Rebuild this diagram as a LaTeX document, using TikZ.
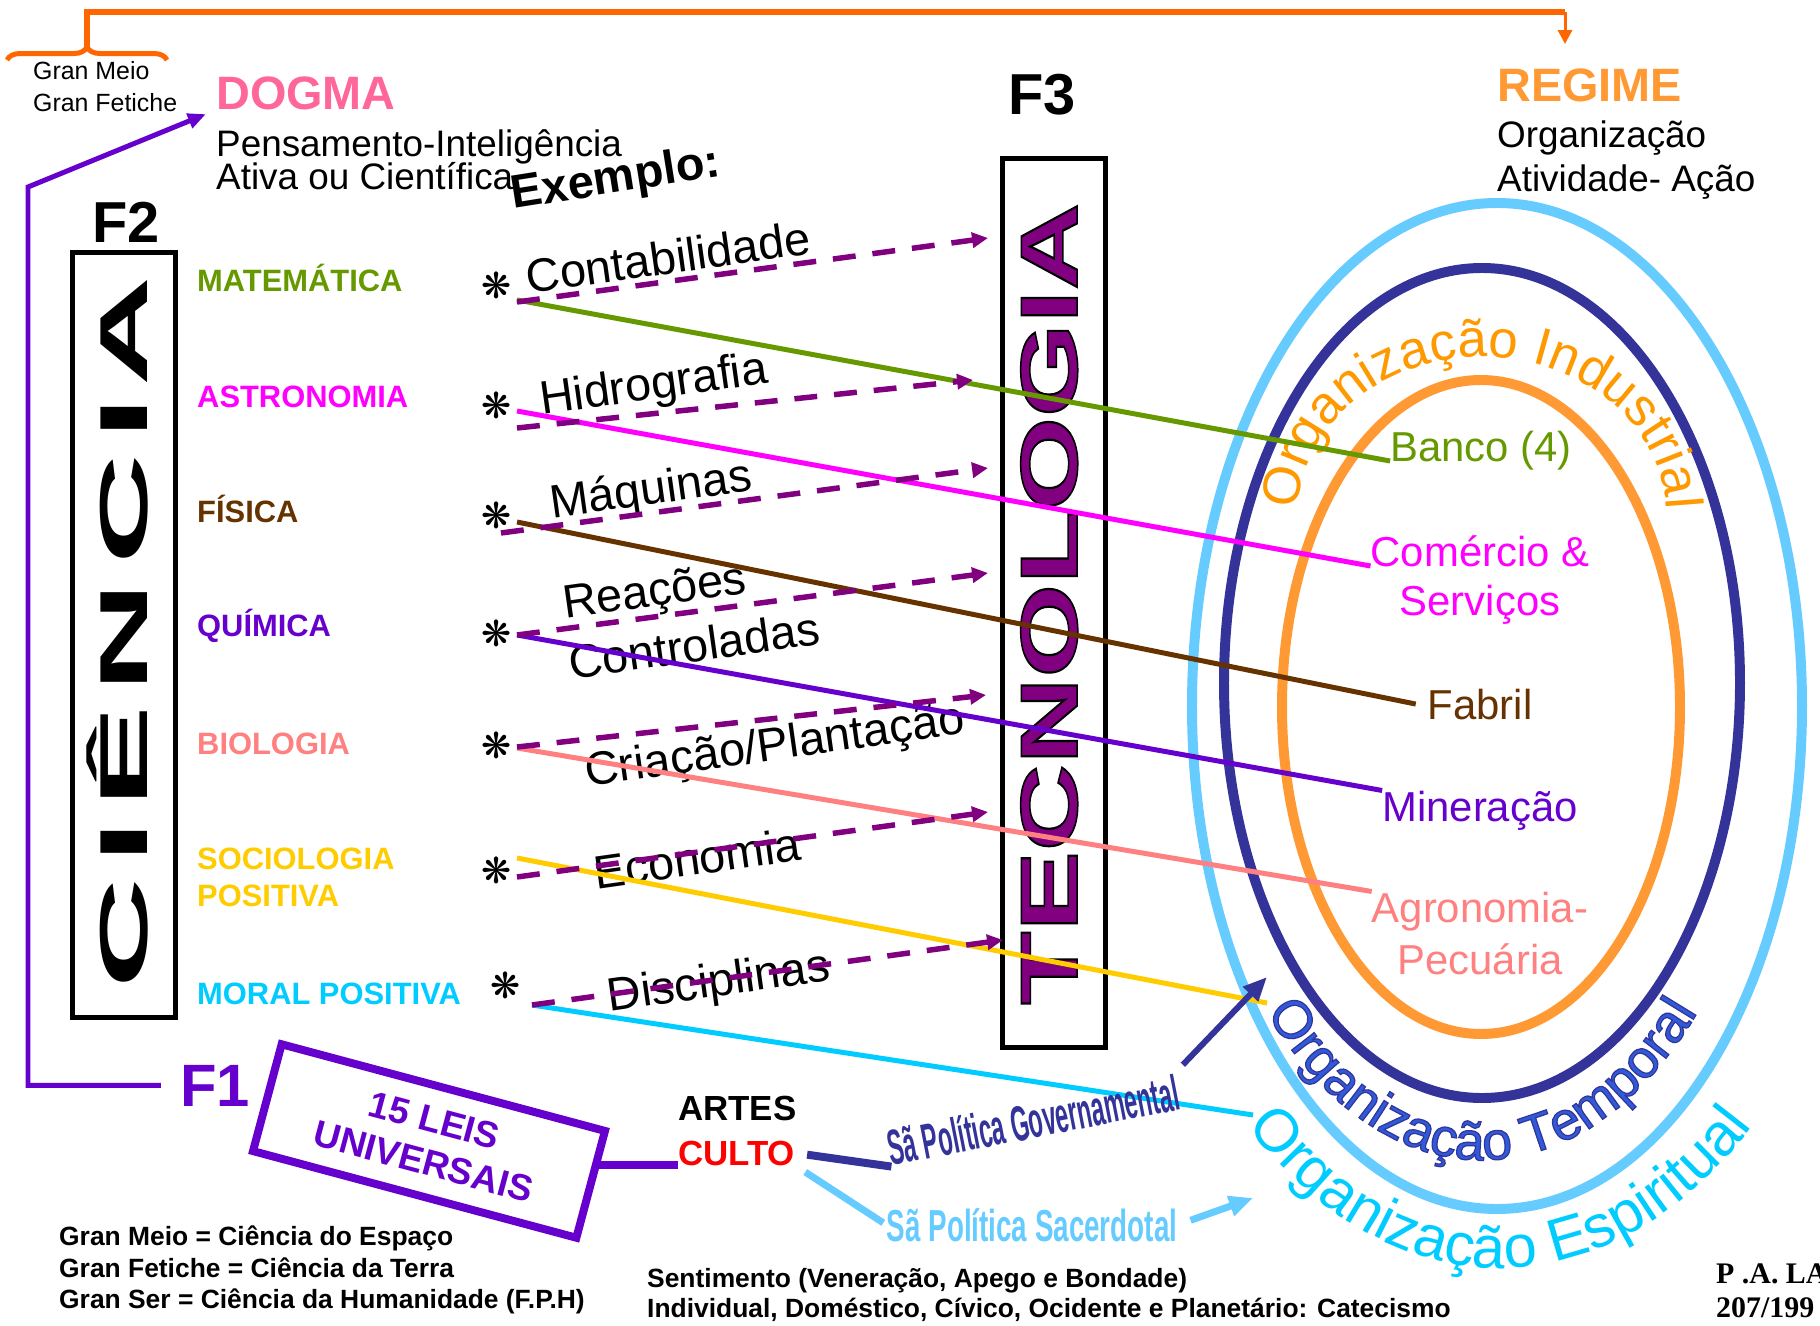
\documentclass[tikz,border=0pt]{standalone}
\usepackage{fontspec}
\setmainfont{Liberation Sans}
\newfontfamily\symfont{DejaVu Sans}
\newfontfamily\serifbf{Liberation Serif}
\usepackage{graphicx}
\usepackage{tikz}
\usetikzlibrary{arrows.meta,calc,positioning,decorations.text,decorations.pathreplacing}
\newcommand{\fsz}[1]{\fontsize{#1}{#1}\selectfont}
\newcommand{\outlined}[2]{\special{pdf:literal direct 2 Tr #1 w #2 RG}}
\newcommand{\plain}{\special{pdf:literal direct 0 Tr}}

\definecolor{matgreen}{HTML}{669900}
\definecolor{astmag}{HTML}{FF00FF}
\definecolor{fisbrown}{HTML}{663300}
\definecolor{quipurple}{HTML}{6600CC}
\definecolor{biosalmon}{HTML}{FF8080}
\definecolor{socgold}{HTML}{FFCC00}
\definecolor{morcyan}{HTML}{00CCFF}
\definecolor{tecpurple}{HTML}{800080}
\definecolor{dogmapink}{HTML}{FF6699}
\definecolor{regorange}{HTML}{FF9933}
\definecolor{indorange}{HTML}{FF9900}
\definecolor{brorange}{HTML}{FF6600}
\definecolor{dblue}{HTML}{333399}
\definecolor{lblue}{HTML}{66CCFF}
\definecolor{tempblue}{HTML}{2F5BD8}

\begin{document}
\begin{tikzpicture}[x=1bp,y=-1bp]
    \tikzstyle{txt}=[inner sep=0pt]
    \tikzstyle{item}=[inner sep=0pt,anchor=base west,font=\fsz{31}\bfseries]
    \tikzstyle{ast}=[inner sep=0pt,font=\symfont\fsz{36}]
    \tikzstyle{tech}=[inner sep=0pt,rotate=8,font=\fsz{47}]
    \tikzstyle{res}=[inner sep=0pt,anchor=base,font=\fsz{42}]
    \tikzstyle{sbox}=[draw,line width=5pt,inner sep=0pt]
    \tikzstyle{link}=[line width=5pt]
    \tikzstyle{dasharrow}=[tecpurple,line width=5.5pt,dash pattern=on 23pt off 17pt,-{Triangle[length=16pt,width=15pt]}]
    \tikzstyle{orgtext}=[decorate,decoration={text along path,text align=center}]

    \fill[white] (0,0) rectangle (1820,1326);
    \useasboundingbox (0,0) rectangle (1820,1326);

    \draw[lblue,line width=10pt] (1497,706) ellipse [x radius=305,y radius=503];
    \draw[dblue,line width=10pt] (1482,683) ellipse [x radius=258,y radius=415];
    \draw[regorange,line width=10pt] (1481,707) ellipse [x radius=199,y radius=327];
    \path[orgtext,decoration={text color=indorange,text={|\fsz{53}|Organização Industrial}}]
      (1298,515) arc[start angle=180,end angle=360,x radius=184,y radius=158];
    \path[orgtext,decoration={text color=tempblue,text={|\fsz{54}\outlined{1.2}{0.2 0.2 0.6}|Organização Temporal}}]
      (1184,683) arc[start angle=180,end angle=0,x radius=298,y radius=477];
    \path[orgtext,decoration={text color=morcyan,text={|\fsz{60}|Organização Espiritual}}]
      (1120,706) arc[start angle=180,end angle=0,x radius=380,y radius=562];

    \draw[brorange,line width=5pt,decorate,decoration={brace,amplitude=13pt}] (7,60) -- (167,60);
    \coordinate (bt) at (87,47);
    \coordinate (rtop) at (1565,12);
    \coordinate (rtip) at (1565,44);
    \draw[brorange,line width=6pt] (bt) |- (rtop);
    \draw[brorange,line width=3pt,-{Triangle[length=14pt,width=14pt]}] (rtop) -- (rtip);

    \node[txt,anchor=base west,font=\fsz{25}] (meio) at (33,80) {Gran Meio};
    \node[txt,anchor=base west,font=\fsz{25}] (fetiche) at (33,112) {Gran Fetiche};
    \node[txt,anchor=base west,font=\fsz{47}\bfseries,text=dogmapink] (dogma) at (216,110) {DOGMA};
    \node[txt,anchor=base west,font=\fsz{37}] (pens) at (216,157) {Pensamento-Inteligência};
    \node[txt,anchor=base west,font=\fsz{37}] (ativa) at (216,190) {Ativa ou Científica};
    \node[txt,anchor=base west,font=\fsz{47}\bfseries,rotate=9] (exemplo) at ($(ativa.base east)+(0,19)$) {Exemplo:};

    \node[txt,anchor=base west,font=\fsz{47}\bfseries,text=regorange] (regime) at (1497,102) {REGIME};
    \node[txt,anchor=base west,font=\fsz{37}] (org) at (1497,148) {Organização};
    \node[txt,anchor=base west,font=\fsz{37}] (ativ) at (1497,192) {Atividade- Ação};

    \node[txt,anchor=base,font=\fsz{58}\bfseries] (f2) at (126,243) {F2};
    \node[txt,anchor=base,font=\fsz{58}\bfseries] (f3) at (1042,115) {F3};
    \node[txt,anchor=base,font=\fsz{60}\bfseries,text=quipurple] (f1) at (215,1106) {F1};

    \node[sbox,minimum width=103,minimum height=767] (cbox) at (124,635) {};
    \node[sbox,minimum width=103,minimum height=893] (tbox) at (1054,603) {};
    \foreach \l/\y [count=\i] in {A/331,I/418,C/509,N/637,Ê/757,I/842,C/933}
      \node[txt,anchor=base,rotate=90,font=\fsz{68}\bfseries] (cl\i) at (147,\y) {\scalebox{2.25}[1]{\l}};
    \node[txt,anchor=base,rotate=90,font=\fsz{81}\bfseries,text=tecpurple] (tec) at (1077,604) {\scalebox{1.49}[1]{\outlined{1.5}{0 0 0}TECNOLOGIA\plain}};

    \foreach \t/\c/\y [count=\i] in {MATEMÁTICA/matgreen/292,ASTRONOMIA/astmag/407,FÍSICA/fisbrown/522,QUÍMICA/quipurple/636,BIOLOGIA/biosalmon/754,SOCIOLOGIA/socgold/869,POSITIVA/socgold/906,MORAL POSITIVA/morcyan/1004}
      \node[item,text=\c] (it\i) at (197,\y) {\t};

    \foreach \i/\x/\y in {1/497/285,2/497/405,3/497/515,4/497/633,5/497/745,6/497/870,7/506/985}
      \node[ast] (a\i) at (\x,\y) {❋};

    \foreach \t/\x/\y [count=\i] in {Contabilidade/668/257,Hidrografia/654/387,Máquinas/651/492,Reações/655/594,Controladas/694/645,{Criação/Plantação}/775/748,Economia/697/858,Disciplinas/719/984}
      \node[tech] (ex\i) at (\x,\y) {\t};

    \node[res,text=matgreen] (banco) at (1481,461) {Banco (4)};
    \node[res,text=astmag] (com) at (1480,566) {Comércio \&};
    \node[res,text=astmag] (serv) at (1480,615) {Serviços};
    \node[res,text=fisbrown,outer xsep=12pt] (fabril) at (1480,719) {Fabril};
    \node[res,text=quipurple] (miner) at (1480,821) {Mineração};
    \node[res,text=biosalmon] (agro) at (1480,922) {Agronomia-};
    \node[res,text=biosalmon] (pecu) at (1480,974) {Pecuária};
    \coordinate (gend) at (1267,1003);
    \coordinate (cend) at (1253,1115);

    \foreach \i/\px/\py/\qx/\qy/\tx/\ty in {1/517/300/517/302/988/238,2/517/411/517/428/973/380,3/517/522/501/533/988/468,4/517/635/517/635/988/573,5/517/748/517/747/986/695,6/517/858/517/877/988/812,7/532/1005/532/1005/1003/940} {
      \coordinate (p\i) at (\px,\py);
      \coordinate (q\i) at (\qx,\qy);
      \coordinate (t\i) at (\tx,\ty);
    }
    \foreach \i/\c/\e in {1/matgreen/banco.base west,2/astmag/com.base west,3/fisbrown/fabril.west,4/quipurple/miner.north west,5/biosalmon/agro.north west,6/socgold/gend,7/morcyan/cend}
      \draw[link,\c] (p\i) -- (\e);
    \foreach \i in {1,...,7}
      \draw[dasharrow] (q\i) -- (t\i);

    \coordinate (bend) at (28,187);
    \draw[quipurple,line width=5pt,shorten <=19pt,shorten >=11pt,-{Triangle[length=18pt,width=15pt]}] (f1.west) -| (bend) -- (dogma.base west);

    \node[draw=quipurple,line width=8pt,rotate=-15,minimum width=336,minimum height=111,align=center,font=\fontsize{37}{43}\selectfont\bfseries,text=quipurple] (leis) at (429,1141) {15 LEIS\\UNIVERSAIS};
    \node[txt,anchor=base west,font=\fsz{35}\bfseries] (artes) at (678,1120) {ARTES};
    \node[txt,anchor=base west,font=\fsz{35}\bfseries,text=red] (culto) at (678,1165) {CULTO};
    \draw[quipurple,line width=9pt] (leis.east |- culto.base) -- (culto.base west);

    \node[txt,rotate=11,font=\fsz{50}\bfseries,text=dblue] (gov) at (1033,1120) {\scalebox{0.47}[1]{Sã Política Governamental}};
    \node[txt,font=\fsz{45}\bfseries,text=lblue] (sac) at (1032,1225) {\scalebox{0.62}[1]{Sã Política Sacerdotal}};
    \coordinate (gtip) at (1267,977);
    \coordinate (stip) at (1253,1198);
    \draw[dblue,line width=8pt,shorten <=12pt] (culto.east) -- (gov.south west);
    \draw[dblue,line width=6pt,shorten <=12pt,-{Triangle[length=24pt,width=20pt]}] (gov.north east) -- (gtip);
    \draw[lblue,line width=7pt,shorten <=12pt,shorten >=4pt] (culto.south east) -- (sac.west);
    \draw[lblue,line width=7pt,shorten <=14pt,-{Triangle[length=24pt,width=20pt]}] (sac.east) -- (stip);

    \foreach \t/\y [count=\i] in {{Gran Meio = Ciência do Espaço}/1245,{Gran Fetiche = Ciência da Terra}/1277,{Gran Ser = Ciência da Humanidade (F.P.H)}/1308}
      \node[txt,anchor=base west,font=\fsz{26.5}\bfseries] (gr\i) at (59,\y) {\t};
    \node[txt,anchor=base west,font=\fsz{26.5}\bfseries] (sent) at (647,1287) {Sentimento (Veneração, Apego e Bondade)};
    \node[txt,anchor=base west,font=\fsz{26.5}\bfseries] (indiv) at (647,1317) {Individual, Doméstico, Cívico, Ocidente e Planetário: Catecismo};
    \node[txt,anchor=base west,font=\serifbf\fsz{30}\bfseries] (pa) at (1716,1283) {P .A. LA};
    \node[txt,anchor=base west,font=\serifbf\fsz{30}\bfseries] (pay) at (1716,1317) {207/199};
\end{tikzpicture}
\end{document}
